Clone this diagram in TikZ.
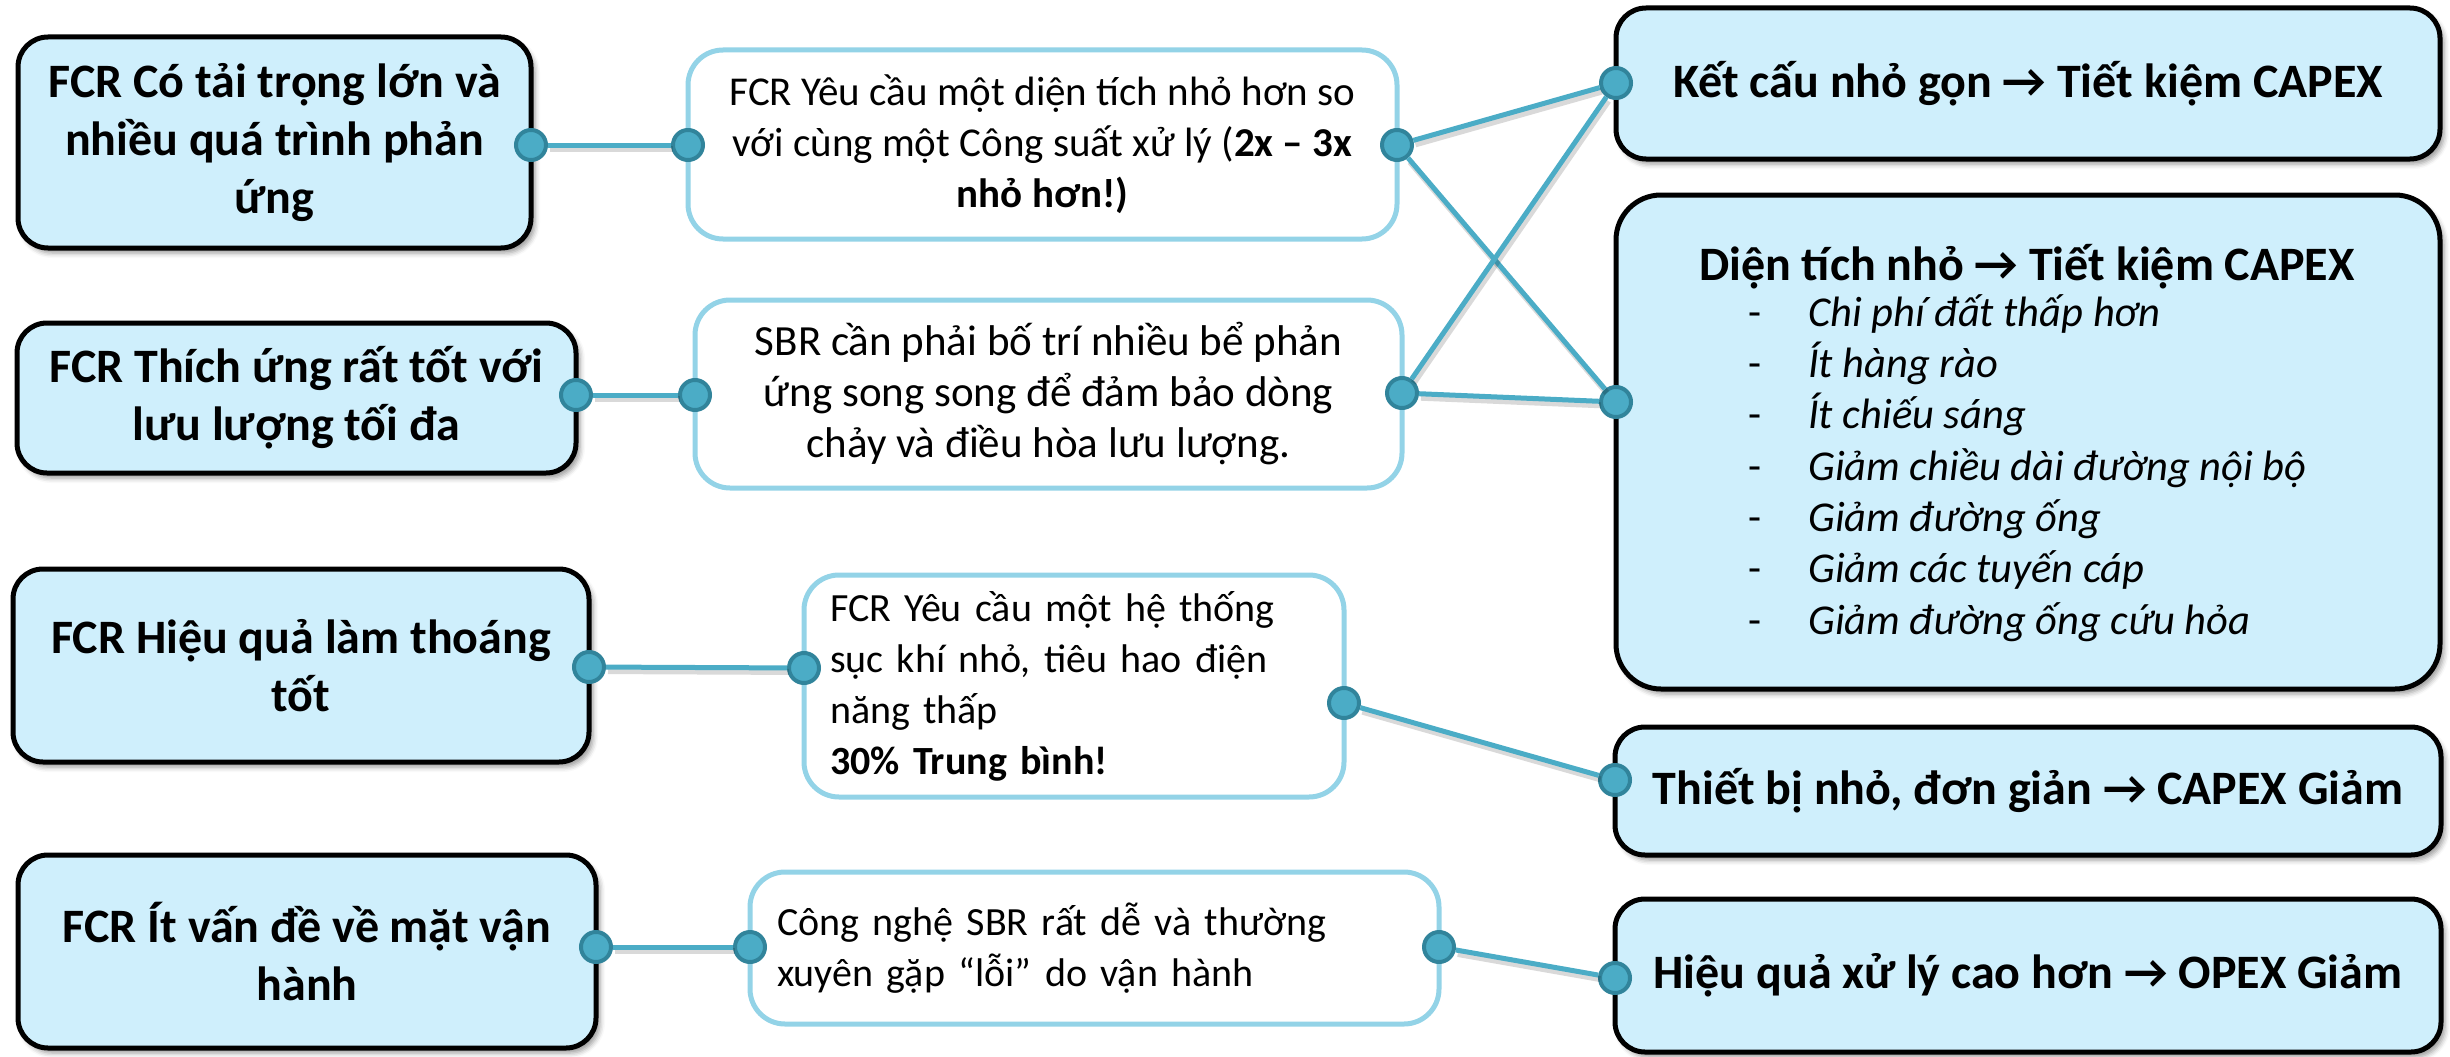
\documentclass[tikz,border=0pt]{standalone}
\usepackage{fontspec}
\setmainfont{Carlito}
\usetikzlibrary{shadows.blur}

\definecolor{boxfill}{HTML}{CFEFFC}
\definecolor{portfill}{HTML}{4BACC6}
\definecolor{portline}{HTML}{31849B}
\definecolor{softedge}{HTML}{93D3E7}
\definecolor{linkc}{HTML}{4BACC6}

\tikzset{
  keybox/.style={draw=black, line width=5pt, fill=boxfill, rounded corners=30pt,
    blur shadow={shadow xshift=4pt, shadow yshift=-5pt, shadow blur radius=5pt, shadow opacity=40},
    align=center, inner sep=0pt, font=\fontsize{48}{58}\selectfont\bfseries},
  resultbox/.style={keybox, font=\fontsize{48}{58}\selectfont\bfseries},
  notebox/.style={draw=softedge, line width=5pt, fill=white, rounded corners=35pt,
    inner sep=0pt, font=\fontsize{40}{51}\selectfont},
  port/.style={circle, minimum size=30pt, inner sep=0pt, fill=portfill, draw=portline, line width=4pt},
  link/.style={draw=linkc, line width=5pt,
    preaction={draw=black, draw opacity=0.15, line width=6pt, transform canvas={shift={(2pt,-4pt)}}}},
  listdash/.style={anchor=mid west, inner sep=0pt, font=\fontsize{42.5}{50}\selectfont},
  listitem/.style={anchor=mid west, inner sep=0pt, font=\fontsize{42.5}{50}\selectfont\itshape},
}

\begin{document}
\begin{tikzpicture}[x=1pt, y=-1pt]
\useasboundingbox (0,0) rectangle (2450,1057);

% left column: features of the FCR
\node[keybox, minimum width=513pt, minimum height=211pt] (L1) at (274.5,142.5)
  {FCR Có tải trọng lớn và\\nhiều quá trình phản\\ứng};
\node[keybox, minimum width=559pt, minimum height=150pt] (L2) at (296.5,398)
  {FCR Thích ứng rất tốt với\\lưu lượng tối đa};
\node[keybox, minimum width=576pt, minimum height=193pt] (L3) at (301,665.5)
  {FCR Hiệu quả làm thoáng\\tốt};
\node[keybox, minimum width=578pt, minimum height=193pt] (L4) at (307,951.5)
  {FCR Ít vấn đề về mặt vận\\hành};

% middle column: explanations
\node[notebox, align=center, font=\fontsize{41}{51}\selectfont, minimum width=709pt, minimum height=189pt] (A2) at (1042.5,144.5)
  {FCR Yêu cầu một diện tích nhỏ hơn so\\với cùng một Công suất xử lý (\textbf{2x – 3x}\\\textbf{nhỏ hơn!)}};
\node[notebox, align=center, font=\fontsize{43}{51}\selectfont, minimum width=707pt, minimum height=188pt] (B2) at (1048.5,394)
  {SBR cần phải bố trí nhiều bể phản\\ứng song song để đảm bảo dòng\\chảy và điều hòa lưu lượng.};
\node[notebox, align=left, text width=488pt, inner xsep=26pt, minimum height=222pt] (C2) at (1074,686)
  {FCR Yêu cầu một hệ thống\\sục khí nhỏ, tiêu hao điện\\năng thấp\\\textbf{30\% Trung bình!}};
\node[notebox, align=left, text width=635pt, inner xsep=27pt, minimum height=152pt] (D2) at (1094.5,948)
  {Công nghệ SBR rất dễ và thường\\xuyên gặp “lỗi” do vận hành};

% right column: outcomes
\node[resultbox, minimum width=824pt, minimum height=151pt] (R1) at (2028,83.5)
  {Kết cấu nhỏ gọn → Tiết kiệm CAPEX};
\node[resultbox, rounded corners=45pt, minimum width=824pt, minimum height=494pt] (R2) at (2028,442) {};
\node[inner sep=0pt, font=\fontsize{48}{58}\selectfont\bfseries] (R2t) at (2027,267)
  {Diện tích nhỏ → Tiết kiệm CAPEX};
\foreach \item [count=\i from 0] in {Chi phí đất thấp hơn, Ít hàng rào, Ít chiếu sáng,
    Giảm chiều dài đường nội bộ, Giảm đường ống, Giảm các tuyến cáp, Giảm đường ống cứu hỏa}{
  \node[listdash] (R2d\i) at (1748,{324+51.3*\i}) {-};
  \node[listitem] (R2i\i) at (1808,{324+51.3*\i}) {\item};
}
\node[resultbox, minimum width=826pt, minimum height=128pt] (R3) at (2028,791)
  {Thiết bị nhỏ, đơn giản → CAPEX Giảm};
\node[resultbox, minimum width=826pt, minimum height=153pt] (R4) at (2028,975.5)
  {Hiệu quả xử lý cao hơn → OPEX Giảm};

% connection ports on the box edges
\node[port] (pL1)  at (531,145)  {};
\node[port] (pA2l) at (688,145)  {};
\node[port] (pA2r) at (1397,145) {};
\node[port] (pL2)  at (576,395)  {};
\node[port] (pB2l) at (695,395)  {};
\node[port] (pB2r) at (1402,393) {};
\node[port] (pR1)  at (1616,83)  {};
\node[port] (pR2)  at (1616,402) {};
\node[port] (pL3)  at (589,667)  {};
\node[port] (pC2l) at (804,668)  {};
\node[port] (pC2r) at (1344,703) {};
\node[port] (pR3)  at (1615,780) {};
\node[port] (pL4)  at (596,947)  {};
\node[port] (pD2l) at (750,947)  {};
\node[port] (pD2r) at (1439,947) {};
\node[port] (pR4)  at (1615,978) {};

% connectors
\draw[link] (pL1) -- (pA2l);
\draw[link] (pL2) -- (pB2l);
\draw[link] (pA2r) -- (pR1);
\draw[link] (pA2r) -- (pR2);
\draw[link] (pB2r) -- (pR1);
\draw[link] (pB2r) -- (pR2);
\draw[link] (pL3) -- (pC2l);
\draw[link] (pC2r) -- (pR3);
\draw[link] (pL4) -- (pD2l);
\draw[link] (pD2r) -- (pR4);
\end{tikzpicture}
\end{document}
